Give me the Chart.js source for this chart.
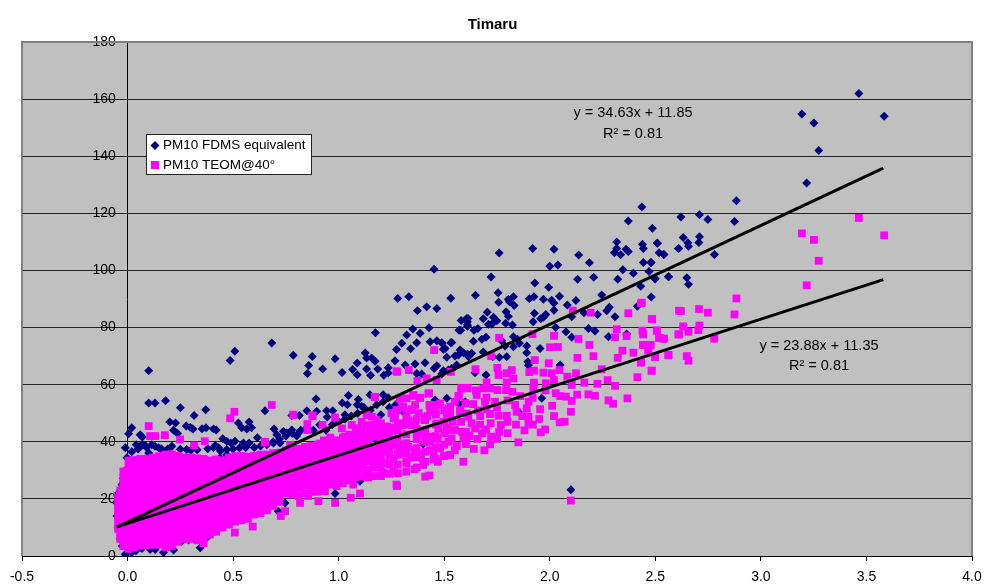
<!DOCTYPE html>
<html>
<head>
<meta charset="utf-8">
<title>Timaru</title>
<script src="https://cdn.jsdelivr.net/npm/chart.js@4"></script>
<style>
  body { margin: 0; background: #fff; }
</style>
</head>
<body>
<canvas id="myChart" width="985" height="585"></canvas>
<script>
var xTicks = [-0.5, 0, 0.5, 1, 1.5, 2, 2.5, 3, 3.5, 4]
var yTicks = [0, 20, 40, 60, 80, 100, 120, 140, 160, 180]

// Valores: [pm, concentracao]
var fdmsPoints = [
  [0.10,64.9],[0.10,53.6],[0.13,53.6],[0.18,54.4],[0.25,51.9],[0.37,51.2],[0.315,49.2],[0.20,46.9],[0.227,46.6],[0.02,44.9],[0.005,42.8],[0.06,42.5],[0.07,41.7],[0.218,44],[0.237,42.9],[0.278,45.5],[0.297,45.1],[0.31,44.5],[0.353,44.6],[0.372,44.9],[0.407,44.5],[0.42,44.1],
  [0.486,68.5],[0.508,71.7],[0.683,74.6],[0.651,50.9],[0.785,70.3],[0.875,69.9],[0.858,66.7],[0.852,63.9],[0.924,65.5],[0.983,69.1],[1.016,64.3],[1.066,65.3],[1.088,67.6],[1.088,63.5],[1.126,71.1],[1.132,65.5],[1.151,63.3],[1.185,65.5],[1.132,69.3],[1.156,69.3],[1.173,68.2],[1.214,63.3],[1.235,65.9],[1.235,64.1],[1.267,68.4],[1.274,72.3],
  [1.046,56.2],[0.893,55],[1.093,54.8],[1.017,53.6],[1.041,53],[1.148,56.5],[1.211,56.5],[1.235,55.4],[1.088,53],[1.109,52.4],[1.03,49.5],[0.849,50.9],[0.896,50.7],[0.943,50.9],[0.972,50.9],[0.814,49.2],[0.778,49.2],[0.946,48.7],[1.2,49.5],[0.525,46.6],[0.541,44.9],[0.576,46.9],[0.565,44.5],[0.587,44.9],[0.694,44.5],[0.707,42.5],[0.738,43.7],[0.778,44.1],[0.754,43.1],[0.817,43.7],[0.801,42],[0.615,41.4],[0.451,41.1],[0.47,40.2],[0.509,40.2],[0.489,39.6],[0.549,39.6],[0.576,39.6],[0.691,39.6],[0.722,39.6],[0.47,35.5],[0.438,34.4],[0.041,39],[0.06,38.5],[0.084,38.7],[0.115,39],[0.147,37.9],[-0.011,37.9],[0.415,38.7],[0.407,37.9],[0.431,37.9],[0.10,36.1],[0.17,36.7],[-0.003,34.4],
  [1.101,26.2],[0.983,21.9],[0.92,23.7],[0.423,25.6],[0.746,18.6],[0.714,15.7],[1.18,40.6],
  [-0.011,0.6],[0.02,1.2],[0.068,2.6],[0.107,2.3],[0.131,2.3],[0.17,1.2],[0.218,2.1],[0.257,5.2],[0.289,5.6],[0.344,2.9],[0.375,6.4],[0.415,8.7],[0.005,1.5],[0.04,1.8],
  [-0.05,18.6],[-0.043,22.1],[-0.027,25],[-0.02,27.2],[-0.01,30],[-0.05,14],[-0.045,10],[-0.035,6],[-0.025,3.5],
  [0.02,36.5],[0.05,37.5],[0.07,39],[0.09,38],[0.13,38.4],[0.16,37.6],[0.19,37.5],[0.21,38.4],[0.25,37.4],[0.28,37.3],[0.3,37],[0.33,37.2],[0.38,37.6],[0.44,36.8],[0.47,37.3],[0.5,37.5],[0.53,37.8],[0.56,38],[0.6,38],[0.63,38.5],[0.66,39],[0.69,40],[0.72,41],[0.75,42],[0.78,43],[0.82,44],[0.85,45],[0.88,44],[0.91,46],[0.94,44],[0.97,46],[1.0,47],[1.03,48],[1.06,49],[1.09,50],[1.12,52],[1.15,51],[1.18,53],[1.21,54],[1.24,52],[1.27,53],
  [1.322,77.4],[1.351,79.5],[1.386,78],[1.428,79.9],[1.299,74.5],[1.37,74.7],[1.341,72.6],[1.433,75],[1.465,75.4],[1.491,74.5],[1.536,74.8],[1.504,72.7],[1.578,79.1],[1.606,83.2],[1.61,80.9],[1.373,85.9],[1.417,87.3],[1.465,86.7],[1.174,78.2],
  [1.512,69.6],[1.567,70.4],[1.583,71.5],[1.615,69.8],[1.409,67.7],[1.465,66.6],[1.362,67.2],[1.315,66.9],[1.452,65.7],[1.559,66.9],[1.496,64.9],[1.535,65.7],[1.37,63.9],[1.393,63.7],[1.512,55.2],[1.457,54.6],[1.599,54],
  [1.452,100.4],[1.76,106.1],[1.919,107.7],[2.02,107.4],[2.137,105.4],[2.188,102.7],[2.0,101.5],[2.038,101.9],[1.722,97.7],[1.929,95.6],[2.132,96.9],[2.208,97.6],[1.995,94.1],[1.28,90.2],[1.332,90.8],[1.531,90.3],[1.648,91.3],[1.755,92.2],[1.758,88.9],[1.804,89.9],[1.828,90.8],[1.809,89],[1.831,87.7],[1.903,90.1],[1.925,90.8],[1.97,89.9],[2.009,89.6],[2.02,88.5],[2.046,91],[2.083,87.9],[2.124,89.5],
  [2.02,86.1],[1.927,85],[1.793,85.5],[1.804,84],[1.704,85.4],[1.685,83.1],[1.733,83.6],[1.749,82.4],[1.58,82.5],[1.613,83.2],[1.61,82],[1.61,80.5],[1.709,81.2],[1.725,81.2],[1.791,81.5],[1.823,80.9],[1.921,82],[1.957,83.1],[1.981,84.6],[1.97,83.6],[2.104,83.8],[2.162,85.2],[2.226,84.6],[2.27,85.9],[2.282,87.1],[2.309,83.8],[2.028,80],[2.077,78.5],[2.104,76.6],[2.183,79.7],[2.214,78.8],
  [1.57,79.1],[1.641,79.1],[1.659,79.7],[1.638,75.2],[1.678,75.9],[1.698,76.6],[1.488,74.7],[1.531,74.7],[1.496,72.4],[1.575,72.1],[1.591,71.2],[1.61,70.7],[1.63,71],[1.685,71.4],[1.772,75.4],[1.828,76.8],[1.847,75.9],[1.788,73.5],[1.828,73.3],[1.856,74.5],[1.891,73.5],[1.954,72.7],[1.891,71.2],[1.796,69.8],[1.761,69.6],[1.73,69.8],[1.551,70],[1.551,66.3],[1.52,65.1],[1.896,68],[1.899,66.8],[2.049,66.9],[1.646,64.2],[1.698,63.4],[1.488,63.7],[1.603,53.7],[1.572,53.1],[1.962,55.2],[1.851,50.5],[1.401,39.2],[1.307,50.5],
  [2.372,117.3],[2.486,114.8],[2.317,110],[2.439,109.2],[2.51,109.5],[2.317,107.7],[2.306,106.2],[2.336,105.5],[2.361,107.4],[2.372,106.6],[2.443,107.7],[2.518,106.2],[2.541,105.6],[2.609,107.7],[2.443,102.8],[2.48,102.8],[2.346,100.2],[2.396,99],[2.47,99.6],[2.322,96.9],[2.499,97.2],[2.563,97.8],[2.431,94.5],[2.246,91.4],[2.481,90.7],[2.415,87.5],[2.278,76.8],[2.364,77.7],
  [3.464,162],[3.584,154],[3.194,154.8],[3.251,151.6],[3.274,142],[3.217,130.6],[2.884,124.4],[2.436,122.2],[2.709,119.5],[2.621,118.7],[2.749,117.8],[2.875,117.1],[2.632,111.5],[2.709,111.8],[2.654,109.7],[2.657,108.5],[2.706,109.8],[2.611,107.7],[2.509,109.6],[2.539,105.6],[2.78,105.6],[2.479,102.8],[2.499,97],[2.562,97.8],[2.649,97.4],[2.657,95.2],
  [2.1,23.2]
]

var teomPoints = [
  [3.464,118.4],[3.194,113],[3.251,110.7],[3.584,112.3],[3.274,103.4],[3.217,94.8],[2.884,90.2],[2.875,84.6],[2.436,88.7],[2.621,85.8],[2.707,86.5],[2.749,85.2],[2.485,83],[2.632,80.4],[2.709,80.7],[2.704,79.1],[2.657,78.5],[2.613,77.6],[2.779,76.1],[2.507,79],[2.441,78],[2.518,76.3],[2.539,76.1],[2.475,73.9],[2.441,73.9],[2.467,72.1],[2.499,69.8],[2.562,70.3],[2.649,70],[2.657,68.4],[2.433,67.9],[2.482,64.9],
  [2.109,85.9],[2.194,85.2],[2.372,85],[2.432,88.5],[2.483,83],[2.612,85.9],[2.317,79.4],[2.439,78.9],[2.507,78.9],[2.609,77.6],[2.309,76.6],[2.364,77],[2.443,77.6],[2.519,76.4],[2.541,76.1],[1.918,77.7],[2.02,77.1],[1.76,76.4],[2.136,76],[2.188,73.9],[2.001,73.1],[2.038,73.2],[1.452,72.1],[2.451,73.9],[2.478,73.9],[2.344,71.9],[2.396,71.2],[2.467,71.9],[2.131,69.4],[2.207,70],[2.322,69.4],[2.562,70.4],[2.499,69.6],[1.722,70],[1.929,68.6],[2.431,67.7],[1.995,67.5],
  [1.278,64.5],[1.332,65.1],[1.648,65.4],[1.752,65.9],[1.757,63.4],[1.531,64.5],[1.82,65.1],[1.796,64],[1.828,62.2],[1.903,64.4],[1.925,64.9],[1.97,64.2],[2.009,64],[2.046,65.1],[2.02,61.6],[2.083,62.8],[2.124,64],[2.246,65.4],[2.483,64.9],[2.415,62.6],[1.373,61.3],[1.417,62.2],[1.464,61.6],[1.701,60.8],[1.796,60.8],[1.925,60.7],[1.981,60.5],[2.104,59.9],[2.164,60.7],[2.226,60.3],[2.274,61.6],[2.309,59.6],
  [1.58,58.9],[1.611,58.9],[1.685,58.7],[1.717,58.7],[1.752,58.1],[1.793,58.1],[1.823,57.5],[1.922,58.7],[2.028,57],[1.428,57],[1.57,56.1],[1.654,56.4],[2.076,55.8],[2.183,56.6],[2.214,56.1],[2.368,55.2],[2.278,54.5],[2.3,53.3],[2.104,54.3],[1.919,55.4],[1.354,56.1],[1.382,55.4],[1.322,55.2],[1.299,52.3],[1.346,51.1],[1.275,50.9],[1.638,53.2],[1.693,54],[1.43,52.9],[1.464,52.9],[1.433,50.9],[1.52,51.7],[1.575,50.5],[1.528,50],[1.741,54],[1.836,52.9],[1.891,51.7],[1.954,51.4],[2.011,52.6],[1.843,50.5],[1.796,49.1],[1.757,49.1],[1.717,49.7],[1.67,49],[1.614,48.8],[1.899,48.8],[1.899,46.5],[2.047,46.8],[1.768,45.9],
  [1.409,47.6],[1.362,47],[1.346,45.9],[1.299,45.9],[1.267,48.2],[1.22,45.3],[1.196,44.7],[1.235,43],[1.978,44.3],[1.957,43.3],[1.698,44.3],[1.646,44.7],[1.603,43.5],[1.551,44.1],[1.52,44.1],[1.472,44.7],[1.722,41.8],[1.657,41],[1.591,41.2],[1.535,41.2],[1.433,40.6],[1.425,41.8],[1.37,42.4],[1.851,39.8],[1.717,39.1],[1.603,39.2],[1.48,38.1],[1.433,37.1],[1.33,38.3],[1.251,38.9],[1.291,38.3],[1.22,39.4],
  [1.172,55.6],[1.425,56.9],[1.567,56],[1.583,58.7],[1.61,58.7],[0.683,52.9],[0.506,50.5],[0.486,48.2],[0.786,49.4],[0.877,49],[0.852,46.2],[0.852,44.1],[0.924,45.9],[0.983,48.5],[0.651,39.7],
  [1.133,49.4],[1.157,48.8],[1.18,47.6],[1.109,47],[1.133,45.5],[1.172,44.7],[1.228,45.3],[1.26,48.2],[1.307,52.3],[1.354,56.4],[1.386,55.4],[1.362,52.9],[1.322,50.5],[1.275,51.1],[1.346,51.4],[1.433,52.9],[1.449,50.5],[1.48,53.4],[1.528,52.3],[1.512,49.4],[1.575,51.1],[1.606,49.9],[1.409,47.6],[1.315,46.5],[1.26,44.7],[1.22,43.5],[1.465,46.4],[1.512,44.7],[1.583,43.5],[1.606,40.6],
  [1.03,41.8],[1.078,42.4],[1.117,40.6],[1.093,44.7],[1.062,45.9],[1.015,44.7],[0.96,39.4],[0.912,39.4],[0.865,38.3],[0.77,38.9],[1.243,39.4],[1.307,38.9],[1.18,37.1],[1.133,35.9],[1.409,41.8],[1.433,40],[1.48,37.7],[1.449,33.8],[1.528,35.4],[1.591,33],[1.401,31.9],[1.322,32.4],[1.18,34.2],[1.228,32.4],[1.101,33],[1.038,32.4],[0.959,34.8],[0.864,34.8],[0.786,33.6],
  [0.10,45.5],[0.107,42],[0.131,42],[0.177,42.3],[0.249,40.8],[0.366,40.2],[0.315,38.7],[0.651,40],[0.785,49.5],[0.875,49.2],[1.172,55.7],[1.274,64.7],[0.508,8.2],[0.593,10.3],[0.726,14],[0.746,15.7],[0.983,18.6],[1.057,20.4],[1.101,21.9],[0.904,19.2],[0.935,22.7],[0.817,18.6],[0.856,21],[0.785,22.1],[1.274,25],[0.88,23.3],[0.991,25.6],[1.069,25],[1.132,28],[1.211,29.1],[1.259,29.7],
  [1.276,24.5],[1.41,27.8],[1.43,28.2],[1.36,30.4],[1.47,33],
  [1.25,50],[1.29,55],[1.33,47.5],[1.38,50],[1.42,49],[1.46,49.5],[1.5,47],[1.54,47],[1.58,47],[1.63,46.5],[1.67,46],[1.72,46.5],[1.76,43.5],[1.8,47],[1.84,46],[1.88,44],[1.55,54],[1.6,53.5],[1.66,51],[1.7,51.5],[1.75,52],[1.8,54.5],[1.86,56],[1.9,54],[1.65,58],[1.7,55.5],[1.62,42],[1.68,43],[1.75,41],[1.8,43],[1.56,38.5],[1.52,40],[1.47,41],[1.5,35],[1.55,37],[1.64,37.5],[1.69,37],[1.36,37],[1.39,35.5],[1.45,36],[1.3,36],[1.26,34],[1.22,36.5],[1.34,34.5],[1.4,43.5],[1.95,48],[1.98,58],[2.05,56],[2.13,56.5],[2.02,49],[1.87,49],[1.92,46],[2.1,50.5],[2.07,47],
  [2.1,19.4]
]

// Parte saturada da nuvem: os pontos nao se distinguem na imagem, valores estimados por coluna
var teomCloudX = [-0.045,-0.035,-0.02,0.005,0.03,0.06,0.09,0.12,0.15,0.18,0.21,0.24,0.27,0.30,0.33,0.36,0.39,0.42,0.45,0.48,0.51,0.54,0.57,0.60,0.63,0.66,0.69,0.72,0.75,0.78,0.81,0.84,0.87,0.90,0.93,0.96,0.99,1.02,1.05,1.08,1.11,1.14,1.17,1.20,1.24,1.28,1.32,1.37,1.41,1.46,1.5]
var teomCloudY = [
  [9.5,12,14,16.2,18,20],
  [6,8.2,10.5,13,15,17,19.2,21,23],
  [3.5,6,8,10.2,12.4,14.6,17,19,21.2,23.2,25.3,27.5,29.6],
  [2.5,4.7,7,9,11.3,13.6,15.7,18,20.1,22.3,24.6,26.7,29,31.2,33.4],
  [3,5.2,7.4,9.6,11.8,14,16.3,18.4,20.7,23,25,27.4,29.5,31.8,33.6],
  [3.6,5.7,8,10.1,12.2,14.5,16.6,19,21,23.3,25.5,27.7,30,32,34],
  [3.8,6,8.1,10.4,12.7,14.8,17,19.3,21.4,23.6,25.8,28,30.2,32.2,34],
  [4,6.2,8.5,10.6,12.8,15,17.3,19.4,21.7,23.9,26,28.3,30.4,32.6,34.5],
  [4,6.3,8.4,10.7,12.9,15.2,17.4,19.6,21.8,24,26.2,28.4,30.7,32.8,35],
  [3,5.2,7.5,9.7,12,14.1,16.4,18.5,20.8,23,25.2,27.4,29.6,31.8,33.8,35.5],
  [3.5,5.8,8,10.2,12.4,14.6,16.8,19,21.2,23.4,25.6,27.8,30,32.2,34,35.6],
  [5,7.2,9.4,11.6,13.8,16,18.2,20.4,22.6,24.8,27,29.2,31.4,33.4,35],
  [6,8.2,10.4,12.6,14.8,17,19.2,21.4,23.6,25.8,28,30.2,32.4,34.5],
  [6,8.3,10.5,12.7,14.9,17.1,19.3,21.5,23.7,25.9,28.1,30.3,32.5,34.5],
  [5.5,7.7,9.9,12.1,14.3,16.5,18.7,20.9,23.1,25.3,27.5,29.7,31.9,34.2],
  [4.5,6.7,9,11.2,13.4,15.6,17.8,20,22.2,24.4,26.6,28.8,31,33,34],
  [7.5,9.7,11.9,14.1,16.3,18.5,20.7,22.9,25.1,27.3,29.5,31.5,33.5],
  [8.5,10.7,12.9,15.1,17.3,19.5,21.7,23.9,26.1,28.3,30.5,32.3,33.8],
  [10,12.2,14.4,16.6,18.8,21,23.2,25.4,27.6,29.8,31.8,33.5],
  [11,13.2,15.4,17.6,19.8,22,24.2,26.4,28.6,30.8,32.8,34.5],
  [12,14.2,16.4,18.6,20.8,23,25.2,27.4,29.6,31.8,33.5,35],
  [12.5,14.7,16.9,19.1,21.3,23.5,25.7,27.9,30.1,32.3,34,35],
  [13,15.2,17.4,19.6,21.8,24,26.2,28.4,30.6,32.8,34.8],
  [14.5,16.7,18.9,21.1,23.3,25.5,27.7,29.9,32.1,34,35],
  [15,17.2,19.4,21.6,23.8,26,28.2,30.4,32.6,34.4,35.5],
  [16,18.2,20.4,22.6,24.8,27,29.2,31.4,33.6,35.5],
  [17.5,19.7,21.9,24.1,26.3,28.5,30.7,32.9,35,36],
  [19,21.2,23.4,25.6,27.8,30,32.2,34.4,36.2],
  [22,24.2,26.4,28.6,30.8,33,35.2,37],
  [21.5,24,26.3,28.5,30.7,33,35.2,37.6],
  [21,23.8,26.5,28.7,31,33.2,35.4,37.5],
  [22,24.8,27,29.2,31.4,33.6,35.8,38.2],
  [22.5,25,27.3,29.5,31.7,33.9,36.1,38.5],
  [22.5,25.2,27.8,30,32.2,34.4,36.6,39],
  [24.5,27,29.2,31.4,33.6,35.8,38,40.5],
  [25,27.5,29.8,32,34.2,36.4,38.6,41.5],
  [24.5,27.3,29.6,31.8,34,36.2,38.4,40.5],
  [25.5,28,30.3,32.5,34.7,36.9,39.1,41.5],
  [26.5,29,31.4,33.6,35.8,38,40.2,42.5],
  [27.5,30,32.4,34.6,36.8,39,41.2,43.5],
  [27.8,30.5,33,35.2,37.4,39.6,42,44],
  [27.5,30.3,33.2,35.4,37.6,39.2,42,44.5,45.8],
  [28,31,33.5,36,38,41.8,44,46],
  [28,31,33.6,36.2,38.5,41,43.3,45.5,46.5],
  [28.8,32,35,37.6,40,42.5,45],
  [29,32,35.4,38.2,41,43.8,46.5],
  [29.5,33,36,39.5,42.6,46,48],
  [31,34.5,37.8,41,44.4,48],
  [33,36.5,40,44,48.5],
  [34,38,42,46,50],
  [35,39,43,47,51]
]

// Linhas de tendencia, do menor ao maior x
var trendFdmsX = [-0.05, 3.58]
var trendFdmsY = [10.1, 135.8]
var trendTeomX = [-0.05, 3.58]
var trendTeomY = [10.2, 96.8]

var teomAll = teomPoints.slice()
teomCloudX.forEach(function(x, i) {
  teomCloudY[i].forEach(function(y) {
    teomAll.push([x, y])
  })
})

function toXY(list) {
  return list.map(function(p) { return { x: p[0], y: p[1] } })
}

function linePoints(xs, ys) {
  return xs.map(function(x, i) { return { x: x, y: ys[i] } })
}

var TEXTO = '"Liberation Sans", Arial, sans-serif'

// Fundo cinza e borda da area do grafico
var fundoPlugin = {
  id: 'fundo',
  afterLayout: function(chart) {
    // titulo centrado na pagina e nao na area do grafico
    chart.titleBlock.left = 0
    chart.titleBlock.right = chart.width
  },
  beforeDraw: function(chart) {
    var a = chart.chartArea
    var ctx = chart.ctx
    ctx.save()
    ctx.fillStyle = '#C0C0C0'
    ctx.fillRect(a.left, a.top, a.right - a.left, a.bottom - a.top)
    ctx.restore()
  },
  beforeDatasetsDraw: function(chart) {
    var ctx = chart.ctx
    var c = chart.chartArea
    ctx.save()
    ctx.strokeStyle = '#808080'
    ctx.lineWidth = 2
    ctx.beginPath()
    ctx.moveTo(c.left, c.bottom)
    ctx.lineTo(c.left, c.top)
    ctx.lineTo(c.right, c.top)
    ctx.lineTo(c.right, c.bottom)
    ctx.stroke()
    ctx.restore()
  }
}

// Legenda e equacoes das tendencias
var textosPlugin = {
  id: 'textos',
  afterDraw: function(chart) {
    var ctx = chart.ctx
    ctx.save()
    ctx.font = '14.5px ' + TEXTO
    ctx.fillStyle = '#000'
    ctx.textAlign = 'center'
    ctx.textBaseline = 'middle'
    ctx.fillText('y = 34.63x + 11.85', 633, 113)
    ctx.fillText('R² = 0.81', 633, 134)
    ctx.fillText('y = 23.88x + 11.35', 819, 346)
    ctx.fillText('R² = 0.81', 819, 366)

    ctx.fillStyle = '#fff'
    ctx.strokeStyle = '#222'
    ctx.lineWidth = 1
    ctx.fillRect(146.5, 134.5, 165, 40)
    ctx.strokeRect(146.5, 134.5, 165, 40)
    ctx.fillStyle = '#000080'
    ctx.beginPath()
    ctx.moveTo(155, 141)
    ctx.lineTo(159.5, 145.5)
    ctx.lineTo(155, 150)
    ctx.lineTo(150.5, 145.5)
    ctx.closePath()
    ctx.fill()
    ctx.fillStyle = '#FF00FF'
    ctx.fillRect(151, 161, 8, 8)
    ctx.fillStyle = '#000'
    ctx.textAlign = 'left'
    ctx.font = '13.5px ' + TEXTO
    ctx.fillText('PM10 FDMS equivalent', 163, 145.5)
    ctx.fillText('PM10 TEOM@40°', 163, 165)
    ctx.restore()
  }
}

var ctx = document.getElementById('myChart').getContext('2d')
var myChart = new Chart(ctx, {
  type: 'scatter',
  data: {
    datasets: [{
      label: 'Linear (PM10 FDMS equivalent)',
      data: linePoints(trendFdmsX, trendFdmsY),
      showLine: true,
      borderColor: '#000',
      borderWidth: 3,
      pointRadius: 0,
      order: 0
    },
    {
      label: 'Linear (PM10 TEOM@40°)',
      data: linePoints(trendTeomX, trendTeomY),
      showLine: true,
      borderColor: '#000',
      borderWidth: 3,
      pointRadius: 0,
      order: 0
    },
    {
      label: 'PM10 TEOM@40°',
      data: toXY(teomAll),
      pointStyle: 'rect',
      pointRadius: 5.5,
      borderWidth: 0,
      backgroundColor: '#FF00FF',
      order: 1
    },
    {
      label: 'PM10 FDMS equivalent',
      data: toXY(fdmsPoints),
      pointStyle: 'rectRot',
      pointRadius: 4.5,
      borderWidth: 0,
      backgroundColor: '#000080',
      order: 2
    }]
  },
  options: {
    responsive: false,
    animation: false,
    layout: {
      padding: { left: 22, right: 13, top: 0, bottom: 0 }
    },
    plugins: {
      legend: { display: false },
      tooltip: { enabled: false },
      title: {
        display: true,
        text: 'Timaru',
        color: '#000',
        font: { family: TEXTO, size: 15, weight: 'bold' },
        padding: { top: 16, bottom: 8 }
      }
    },
    scales: {
      x: {
        type: 'linear',
        position: 'bottom',
        min: xTicks[0],
        max: xTicks[xTicks.length - 1],
        grid: { drawOnChartArea: false, drawTicks: true, tickLength: 5, color: '#000' },
        border: { color: '#000', width: 1 },
        afterBuildTicks: function(axis) {
          axis.ticks = xTicks.map(function(v) { return { value: v } })
        },
        afterFit: function(axis) {
          axis.height = 29
          // sem isso o rotulo 4.0 encolhe a area do grafico
          axis.paddingLeft = 0
          axis.paddingRight = 0
        },
        ticks: {
          autoSkip: false,
          maxRotation: 0,
          color: '#000',
          padding: 8,
          font: { family: TEXTO, size: 14 },
          callback: function(v) { return Number(v).toFixed(1) }
        }
      },
      y: {
        type: 'linear',
        position: { x: 0 },
        min: yTicks[0],
        max: yTicks[yTicks.length - 1],
        grid: { color: '#222', lineWidth: 1, tickLength: 5 },
        border: { color: '#000', width: 1 },
        afterBuildTicks: function(axis) {
          axis.ticks = yTicks.map(function(v) { return { value: v } })
        },
        ticks: {
          autoSkip: false,
          color: '#000',
          font: { family: TEXTO, size: 14 },
          // o eixo cruza em x = 0 e o Chart.js nao aplica padding nesse caso
          callback: function(v) { return v + '\u00A0\u00A0\u00A0' }
        }
      }
    }
  },
  plugins: [fundoPlugin, textosPlugin]
})
</script>
</body>
</html>
